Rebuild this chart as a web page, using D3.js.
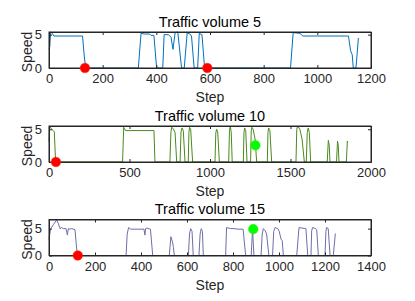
<!DOCTYPE html>
<html>
<head>
<meta charset="utf-8">
<script src="https://cdn.jsdelivr.net/npm/d3@7"></script>
<style>
  body { margin: 0; background: #fff; }
  svg { display: block; font-family: "Liberation Sans", Arial, sans-serif; }
  .ax text { fill: #262626; font-size: 13px; font-family: "Liberation Sans", Arial, sans-serif; }
  .ax path, .ax line { stroke: #262626; }
</style>
</head>
<body>
<svg id="chart" width="415" height="301"></svg>
<script>
// speed traces, [step, speed]
var vol5 = [[0,2.9],[3,3.2],[6,5.4],[12,5.2],[18,4.8],[125,4.8],[132,1.5],[136,0.4],[140,0],
  [333,0],[343,5.2],[355,5.1],[375,5.1],[380,4.9],[391,4.9],[401,0],[424,0],[429,5.0],[445,5.0],
  [455,4.6],[462,2.8],[470,5.3],[480,5.4],[494,0],[504,0],[515,5.3],[525,5.1],[531,4.8],[541,0],
  [554,0],[560,5.2],[570,5.0],[580,0],[900,0],[910,5.3],[935,5.2],[946,4.8],[1116,4.8],
  [1124,2.6],[1130,2.0],[1134,0],[1144,0],[1153,4.5]];

var vol10 = [[0,3.1],[3,5.5],[10,5.2],[17,5.0],[27,4.8],[33,4.6],[41,0],[457,0],[464,5.3],
  [472,4.9],[478,4.8],[652,4.8],[658,0],[751,0],[757,4.5],[762,5.3],[772,5.1],[783,4.5],[793,0],
  [814,0],[820,4.6],[826,5.2],[834,4.8],[845,0],[865,0],[869,4.5],[873,5.3],[880,5.0],[892,0],
  [1031,0],[1036,4.4],[1041,5.0],[1048,4.6],[1058,0],[1116,0],[1121,4.8],[1126,5.5],[1132,4.5],
  [1138,0],[1207,0],[1211,4.5],[1215,5.2],[1222,4.8],[1230,0],[1252,0],[1256,4.6],[1260,5.3],
  [1268,5.0],[1280,3.5],[1290,0],[1356,0],[1360,4.5],[1364,5.2],[1372,4.8],[1383,0],[1534,0],
  [1539,5.0],[1544,5.5],[1558,5.0],[1572,3.5],[1586,0],[1598,0],[1604,4.5],[1610,5.2],[1617,4.5],
  [1625,0],[1728,0],[1735,3.3],[1741,2.5],[1745,0],[1786,0],[1792,3.2],[1797,2.5],[1801,0],
  [1847,0],[1853,3.2],[1855,3.0]];

var vol15 = [[0,3.0],[7,5.0],[20,5.8],[33,6.6],[40,6.0],[48,5.0],[55,5.2],[62,5.0],[74,5.0],
  [80,3.8],[84,5.0],[90,4.9],[99,5.0],[113,4.8],[123,0],[335,0],[340,4.0],[346,5.2],[355,4.9],
  [413,4.9],[417,3.8],[420,5.0],[426,5.1],[441,4.9],[451,0],[523,0],[530,3.5],[537,2.5],[541,1.5],
  [545,0],[606,0],[611,4.0],[616,5.0],[622,4.5],[627,0],[652,0],[657,4.0],[662,5.0],[667,4.5],
  [671,0],[768,0],[772,5.2],[790,5.0],[808,5.0],[820,4.9],[844,4.9],[855,0],[879,0],[885,4.9],
  [891,0],[922,0],[927,4.0],[932,5.0],[940,4.6],[946,4.0],[956,0],[972,0],[977,4.5],[983,5.2],
  [995,5.0],[1001,4.5],[1009,3.0],[1014,2.8],[1019,0],[1077,0],[1087,5.2],[1100,5.1],[1117,5.0],
  [1125,0],[1139,0],[1142,4.6],[1146,5.2],[1160,5.0],[1164,4.8],[1171,0],[1200,0],[1204,4.5],
  [1207,5.2],[1214,5.0],[1222,0],[1236,0],[1245,4.1]];

// marker points
var red5 = [[134,0],[590,0]];
var red10 = [[43,0]];
var green10 = [[1282,2.55]];
var red15 = [[125,0]];
var green15 = [[888,4.9]];

var titles = ["Traffic volume 5", "Traffic volume 10", "Traffic volume 15"];
var xMax = [1200, 2000, 1400];
var xStep = [200, 500, 200];
var yMax = [5.4, 5.5, 6.7];
var yTicks = [0, 5];

var panels = [
  {data: vol5, color: "#0072BD", red: red5, green: []},
  {data: vol10, color: "#4a8a1c", red: red10, green: green10},
  {data: vol15, color: "#6e6eab", red: red15, green: green15}
];

var svg = d3.select("#chart");
var left = 49, right = 371, h = 36;
var tops = [32, 126, 219.5];
var fmt = d3.format("d");

panels.forEach(function(p, k) {
  var top = tops[k];
  var x = d3.scaleLinear().domain([0, xMax[k]]).range([left, right]);
  var y = d3.scaleLinear().domain([0, yMax[k]]).range([top + h, top]);
  var xt = d3.range(0, xMax[k] + 1, xStep[k]);

  var g = svg.append("g");

  // line
  g.append("path")
    .datum(p.data)
    .attr("fill", "none")
    .attr("stroke", p.color)
    .attr("stroke-width", 1)
    .attr("d", d3.line().x(d => x(d[0])).y(d => y(d[1])));

  // axes, ticks inward on all four sides
  g.append("g").attr("class", "ax")
    .attr("transform", "translate(0," + (top + h) + ")")
    .call(d3.axisBottom(x).tickValues(xt).tickFormat(fmt).tickSizeInner(-3).tickSizeOuter(0).tickPadding(6))
    .call(a => a.selectAll("text").attr("dy", "0.71em"));
  g.append("g").attr("class", "ax")
    .attr("transform", "translate(0," + top + ")")
    .call(d3.axisTop(x).tickValues(xt).tickSizeInner(-3).tickSizeOuter(0).tickFormat(""));
  g.append("g").attr("class", "ax")
    .attr("transform", "translate(" + left + ",0)")
    .call(d3.axisLeft(y).tickValues(yTicks).tickFormat(fmt).tickSizeInner(-3).tickSizeOuter(0).tickPadding(7));
  g.append("g").attr("class", "ax")
    .attr("transform", "translate(" + right + ",0)")
    .call(d3.axisRight(y).tickValues(yTicks).tickSizeInner(-3).tickSizeOuter(0).tickFormat(""));

  g.append("rect")
    .attr("x", left).attr("y", top)
    .attr("width", right - left).attr("height", h)
    .attr("fill", "none").attr("stroke", "#262626");

  // markers
  g.selectAll(".red").data(p.red).enter().append("circle")
    .attr("cx", d => x(d[0])).attr("cy", d => y(d[1])).attr("r", 4.8)
    .attr("fill", "#ff0000").attr("stroke", "#ff2a00").attr("stroke-width", 0.5);
  g.selectAll(".green").data(p.green).enter().append("circle")
    .attr("cx", d => x(d[0])).attr("cy", d => y(d[1])).attr("r", 4.8)
    .attr("fill", "#00ff00").attr("stroke", "#33ee00").attr("stroke-width", 0.5);

  // texts
  g.append("text")
    .attr("x", (left + right) / 2).attr("y", top - 5.5)
    .attr("text-anchor", "middle").attr("font-size", 14.5).attr("fill", "#000")
    .text(titles[k]);
  g.append("text")
    .attr("x", (left + right) / 2).attr("y", top + h + 34)
    .attr("text-anchor", "middle").attr("font-size", 14).attr("fill", "#262626")
    .text("Step");
  g.append("text")
    .attr("transform", "translate(32," + (top + h / 2 + 2) + ") rotate(-90)")
    .attr("text-anchor", "middle").attr("font-size", 14).attr("fill", "#262626")
    .text("Speed");
});
</script>
</body>
</html>
